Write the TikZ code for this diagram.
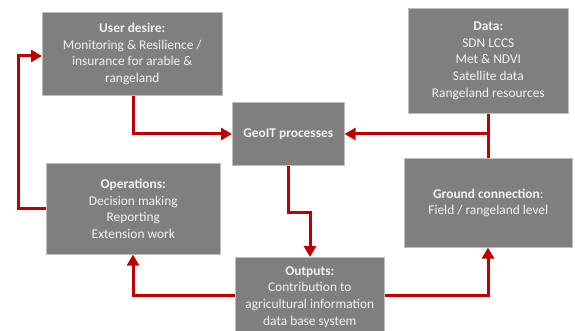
\documentclass[tikz,border=0pt]{standalone}
\usepackage{fontspec}
\setmainfont{Carlito}
\usetikzlibrary{arrows.meta}
\definecolor{boxgray}{RGB}{127,127,127}
\definecolor{boxedge}{RGB}{190,190,190}
\definecolor{arrred}{RGB}{192,0,0}
\definecolor{txt}{RGB}{242,242,242}
\tikzset{
  gbox/.style={fill=boxgray, draw=boxedge, line width=0.6pt, text=txt, align=center,
    inner sep=0pt, anchor=north west, font=\fontsize{13.4pt}{16.6pt}\selectfont},
  link/.style={draw=arrred, line width=3pt},
  arr/.style={link, -{Triangle[length=11pt,width=12pt]}},
}
\begin{document}
\begin{tikzpicture}[x=1pt,y=-1pt]
\clip (0,0) rectangle (575,331);
\fill[white] (0,0) rectangle (575,331);
\node[gbox, minimum width=180pt, minimum height=83pt] (user) at (42,12)
  {\textbf{User desire:}\\Monitoring \& Resilience /\\insurance for arable \&\\rangeland};
\node[gbox, minimum width=112pt, minimum height=63pt] (geo) at (232,102)
  {\textbf{GeoIT processes}};
\node[gbox, minimum width=160pt, minimum height=105pt] (data) at (408,8)
  {\textbf{Data:}\\SDN LCCS\\Met \& NDVI\\Satellite data\\Rangeland resources};
\node[gbox, minimum width=168pt, minimum height=89pt] (ground) at (404,158)
  {\textbf{Ground connection}:\\Field / rangeland level};
\node[gbox, minimum width=174pt, minimum height=91pt] (ops) at (46,163)
  {\textbf{Operations:}\\Decision making\\Reporting\\Extension work};
\node[gbox, minimum width=149pt, minimum height=79pt] (out) at (235,257)
  {\textbf{Outputs:}\\Contribution to\\agricultural information\\data base system};

\coordinate (c1) at (18,208);
\coordinate (c2) at (18,56);
\draw[arr] (ops.west |- c1) -- (c1) -- (c2) -- (user.west |- c2);
\coordinate (c3) at (133,134);
\draw[arr] (user.south -| c3) -- (c3) -- (geo.west |- c3);
\coordinate (c4) at (488,134);
\draw[link] (data.south -| c4) -- (ground.north -| c4);
\draw[arr] (c4) -- (geo.east |- c4);
\coordinate (c5) at (288,212);
\coordinate (c6) at (310,212);
\draw[arr] (geo.south -| c5) -- (c5) -- (c6) -- (out.north -| c6);
\coordinate (c7) at (133,295);
\draw[arr] (out.west |- c7) -- (c7) -- (ops.south -| c7);
\coordinate (c8) at (488,295);
\draw[arr] (out.east |- c8) -- (c8) -- (ground.south -| c8);
\end{tikzpicture}
\end{document}
